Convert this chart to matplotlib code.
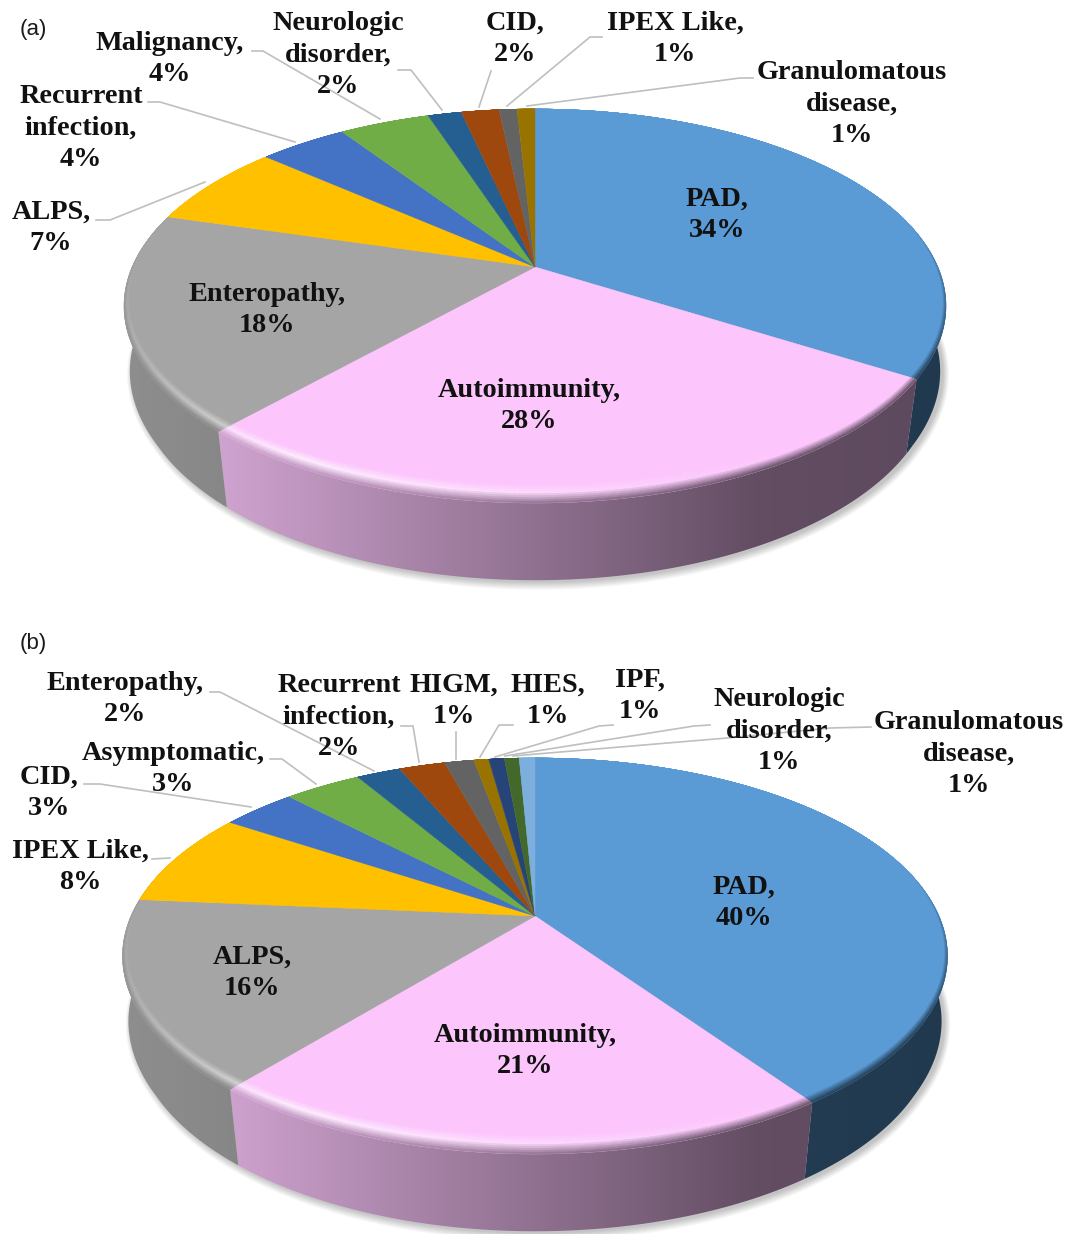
import matplotlib
matplotlib.use("Agg")
import matplotlib.pyplot as plt
from matplotlib.patches import Polygon
from matplotlib.collections import PolyCollection
from matplotlib.colors import to_rgb
import numpy as np

slice_colors = ["#5b9bd5", "#fcc6fc", "#a5a5a5", "#ffc000", "#4472c4", "#70ad47", "#255e91",
                "#9e480e", "#636363", "#997300", "#264478", "#43682b", "#7cafdd"]

# panel (a)
labels_a = ["PAD,", "Autoimmunity,", "Enteropathy,", "ALPS,", "Recurrent\ninfection,", "Malignancy,",
            "Neurologic\ndisorder,", "CID,", "IPEX Like,", "Granulomatous\ndisease,"]
percent_a = [34, 28, 18, 7, 4, 4, 2, 2, 1, 1]
shares_a = [33.9, 27.8, 17.8, 6.9, 4.2, 4.3, 1.6, 1.8, 0.85, 0.85]

# panel (b)
labels_b = ["PAD,", "Autoimmunity,", "ALPS,", "IPEX Like,", "CID,", "Asymptomatic,", "Enteropathy,",
            "Recurrent\ninfection,", "HIGM,", "HIES,", "IPF,", "Neurologic\ndisorder,",
            "Granulomatous\ndisease,"]
percent_b = [40, 21, 16, 8, 3, 3, 2, 2, 1, 1, 1, 1, 1]
shares_b = [40.3, 20.7, 15.4, 7.8, 3.55, 3.65, 2.1, 2.2, 1.4, 0.7, 0.75, 0.7, 0.75]

# layout, in pixels of the output picture
text_pos_a = [(717, 215), (529, 406), (267, 310), (51, 228), (81, 128), (170, 59),
              (338, 55), (515, 39), (675, 39), (852, 104)]
text_pos_b = [(744, 903), (525, 1051), (252, 973), (80, 867), (49, 793), (173, 769), (125, 699),
              (339, 717), (454, 701), (548, 701), (640, 696), (779, 731), (969, 754)]
leaders_a = [[(96, 220), (110, 220), (205, 182)],
             [(148, 102), (160, 102), (295, 142)],
             [(252, 51), (263, 51), (380, 119)],
             [(398, 70), (411, 70), (442, 110)],
             [(491, 71), (479, 107)],
             [(507, 106), (590, 37), (602, 37)],
             [(527, 106), (740, 78), (753, 78)]]
leaders_b = [[(210, 692), (220, 692), (374, 771)],
             [(401, 726), (413, 726), (419, 762)],
             [(456, 732), (456, 759)],
             [(513, 725), (499, 725), (480, 757)],
             [(613, 725), (599, 726), (495, 757)],
             [(710, 725), (694, 726), (505, 756)],
             [(871, 727), (830, 728), (727, 738), (513, 756)],
             [(270, 759), (282, 759), (316, 784)],
             [(84, 784), (100, 784), (251, 807)],
             [(152, 859), (170, 858)]]


def rim(theta, half_w, back_h, front_h):
    # perspective view of a circle: the centre of the pie is not the centre of the ellipse
    k = (front_h - back_h) / (front_h + back_h)
    b = back_h * (1 + k)
    a = half_w * np.sqrt(1 - k ** 2)
    u, v = np.sin(theta), np.cos(theta)
    return a * u / (1 + k * v), b * v / (1 + k * v), v


def quads(x0, y0, x1, y1):
    return np.stack([np.column_stack([x0[:-1], y0[:-1]]), np.column_stack([x0[1:], y0[1:]]),
                     np.column_stack([x1[1:], y1[1:]]), np.column_stack([x1[:-1], y1[:-1]])], axis=1)


def side_shade(sx):
    return np.interp(sx, [124, 225, 760, 947], [0.86, 0.82, 0.39, 0.37])


def narrowing(v):
    return 0.993 - 0.02 * np.clip(-v / 0.5, 0, 1)


def draw_pie(ax, shares, cx, cy, half_w, back_h, front_h, scale=1.02, drop=72.5):
    # shadow under the pie
    t = np.linspace(0, 2 * np.pi, 360)
    x, y, v = rim(t, half_w, back_h, front_h)
    for g in range(12):
        ax.fill(cx + x * (narrowing(v) + g * 0.0013) + 3, cy - (y * (scale + g * 0.003) - drop - 2),
                color="#000000", alpha=0.018, lw=0, zorder=1)

    bounds = np.radians(np.cumsum([0] + list(shares)) * 3.6)
    ramp = np.linspace(0, 1067, 1067)
    for i in range(len(shares)):
        base = np.array(to_rgb(slice_colors[i]))
        n = int(shares[i] * 6) + 4
        t = np.linspace(bounds[i], bounds[i + 1], n)
        x, y, v = rim(t, half_w, back_h, front_h)

        # side wall, darker towards the right; the back of it is hidden by the top face
        keep = v < 0.2
        if keep.sum() < 2:
            continue
        x, y, v = x[keep], y[keep], v[keep]
        sx, sy = cx + x, cy - y
        lx, ly = cx + x * narrowing(v), cy - (y * scale - drop)
        wall = Polygon(np.column_stack([np.r_[sx, lx[::-1]], np.r_[sy, ly[::-1]]]), closed=True,
                       transform=ax.transData)
        grad = np.outer(side_shade(ramp), base)[None, :, :]
        im = ax.imshow(grad, extent=(0, 1067, cy + 330, cy - 180), aspect="auto", zorder=2,
                       interpolation="bilinear")
        im.set_clip_path(wall)

    for i in range(len(shares)):
        base = np.array(to_rgb(slice_colors[i]))
        n = int(shares[i] * 6) + 4
        t = np.linspace(bounds[i], bounds[i + 1], n)
        x, y, v = rim(t, half_w, back_h, front_h)

        # top face
        ax.fill(np.r_[cx, cx + x], np.r_[cy, cy - y], color=base, lw=0.3, zorder=3)

        # bevel along the front of the rim, shrunk towards the apex so slice edges stay straight
        w = np.clip((0.25 - v) / 0.8, 0, 1)
        front = np.clip(-v, 0, 1)
        f = 1 - 0.025 * w - 0.055 * front ** 3
        ix, iy = x * f, y * f
        levels = np.linspace(0, 1, 11)
        for s0, s1 in zip(levels[:-1], levels[1:]):
            ax0, ay0 = cx + ix + s0 * (x - ix), cy - (iy + s0 * (y - iy))
            ax1, ay1 = cx + ix + s1 * (x - ix), cy - (iy + s1 * (y - iy))
            q = quads(ax0, ay0, ax1, ay1)
            mid = 0.5 * (ax0[:-1] + ax0[1:])
            s = 0.5 * (s0 + s1)
            light = np.interp(mid, [124, 200, 300, 600, 800], [0.15, 0.4, 0.7, 0.25, 0.0])[:, None]
            high = base + (1 - base) * light
            dark = np.outer(side_shade(mid), base)
            # only blend towards the wall colour where the bevel is really there
            fade = (0.5 * (w[:-1] + w[1:]))[:, None]
            if s < 0.45:
                cols = base + (high - base) * (s / 0.45)
            else:
                cols = high + (dark - high) * ((s - 0.45) / 0.55)
            cols = np.clip(base + (cols - base) * fade, 0, 1)
            ax.add_collection(PolyCollection(q, facecolors=cols, edgecolors=cols, linewidths=0.3, zorder=4))


def draw_labels(ax, labels, percent, positions, leaders):
    for line in leaders:
        xs, ys = zip(*line)
        ax.plot(xs, ys, color="#bfbfbf", lw=1.2, zorder=5, solid_joinstyle="round")
    for lab, pct, pos in zip(labels, percent, positions):
        ax.text(pos[0], pos[1], "%s\n%d%%" % (lab, pct), ha="center", va="center", fontsize=20.3,
                family="Liberation Serif", fontweight="bold", color="#111111", linespacing=1.33, zorder=6)


fig = plt.figure(figsize=(10.67, 12.34), dpi=100)
ax = fig.add_axes([0, 0, 1, 1])

draw_pie(ax, shares_a, 535, 267, 411, 158, 236)
draw_pie(ax, shares_b, 535, 916, 412.5, 158, 238)
draw_labels(ax, labels_a, percent_a, text_pos_a, leaders_a)
draw_labels(ax, labels_b, percent_b, text_pos_b, leaders_b)

ax.text(20, 30, "(a)", fontsize=16, family="Liberation Sans", va="center", color="#1a1a1a")
ax.text(20, 644, "(b)", fontsize=16, family="Liberation Sans", va="center", color="#1a1a1a")

ax.set_xlim(0, 1067)
ax.set_ylim(1234, 0)
ax.set_aspect("auto")
ax.axis("off")

plt.savefig("out.png", dpi=100)
